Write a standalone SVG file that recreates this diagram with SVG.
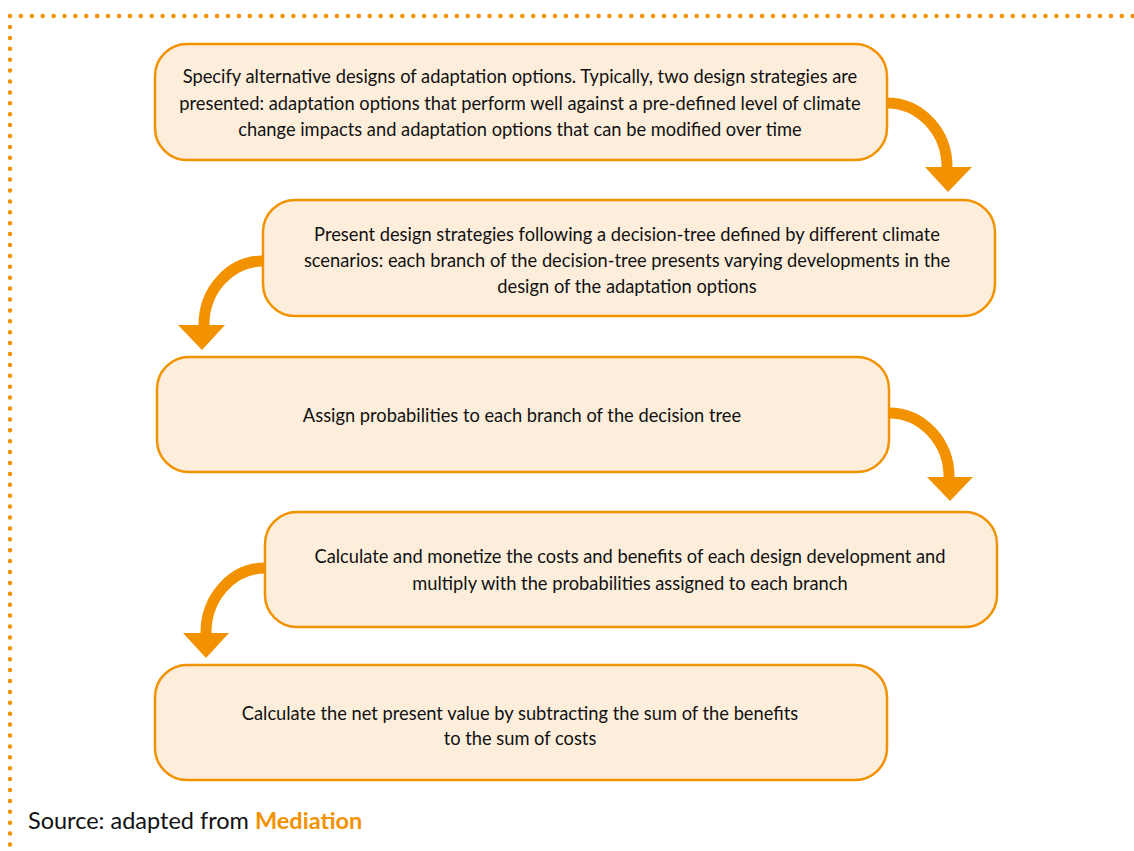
<svg xmlns="http://www.w3.org/2000/svg" width="1134" height="851" viewBox="0 0 1134 851">
<defs>
<style>
.box{fill:#FDEEDC;stroke:#F39200;stroke-width:2.5}
.t{font-family:Lato,"Open Sans",sans-serif;font-size:18.3px;fill:#111;text-anchor:middle}
.arc{fill:none;stroke:#F39200;stroke-width:11}
.head{fill:#F39200}
.dots{fill:none;stroke:#F39200;stroke-width:4.5;stroke-linecap:round;stroke-dasharray:0 10.9}
</style>
</defs>
<rect width="1134" height="851" fill="#fff"/>
<path class="dots" d="M10 16 H1134"/>
<path class="dots" d="M10 27 V851"/>
<g id="connectors">
<path class="arc" d="M887 103 A60 64 0 0 1 947 168"/>
<polygon class="head" points="925,167 972,167 948,192"/>
<path class="arc" d="M263 261 A59 64 0 0 0 204 326"/>
<polygon class="head" points="178,325 225,325 202,350"/>
<path class="arc" d="M889 413 A60 64 0 0 1 949 478"/>
<polygon class="head" points="927,477 973,477 950,501"/>
<path class="arc" d="M265 568 A59 65 0 0 0 206 634"/>
<polygon class="head" points="183,633 229,633 206,658"/>
</g>
<g id="node1">
<rect class="box" x="155" y="44" width="732" height="116" rx="32"/>
<text class="t" x="520" y="83">Specify alternative designs of adaptation options. Typically, two design strategies are</text>
<text class="t" x="520" y="110">presented: adaptation options that perform well against a pre-defined level of climate</text>
<text class="t" x="520" y="136">change impacts and adaptation options that can be modified over time</text>
</g>
<g id="node2">
<rect class="box" x="263" y="200" width="732" height="116" rx="32"/>
<text class="t" x="627" y="241">Present design strategies following a decision-tree defined by different climate</text>
<text class="t" x="627" y="267">scenarios: each branch of the decision-tree presents varying developments in the</text>
<text class="t" x="627" y="293">design of the adaptation options</text>
</g>
<g id="node3">
<rect class="box" x="157" y="357" width="732" height="115" rx="32"/>
<text class="t" x="522" y="422">Assign probabilities to each branch of the decision tree</text>
</g>
<g id="node4">
<rect class="box" x="265" y="512" width="732" height="115" rx="32"/>
<text class="t" x="630" y="563">Calculate and monetize the costs and benefits of each design development and</text>
<text class="t" x="630" y="590">multiply with the probabilities assigned to each branch</text>
</g>
<g id="node5">
<rect class="box" x="155" y="665" width="732" height="115" rx="32"/>
<text class="t" x="520" y="720">Calculate the net present value by subtracting the sum of the benefits</text>
<text class="t" x="520" y="745">to the sum of costs</text>
</g>
<text x="28" y="829" style="font-family:Lato,'Open Sans',sans-serif;font-size:23.5px;fill:#111">Source: adapted from <tspan style="font-weight:bold;fill:#F39200">Mediation</tspan></text>
</svg>
